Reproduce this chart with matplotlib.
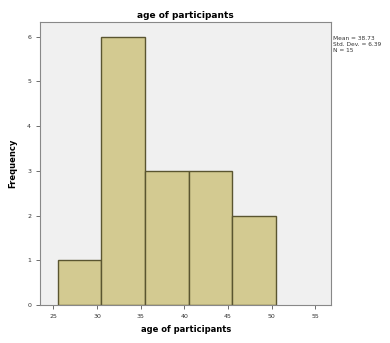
import numpy as np
import matplotlib
matplotlib.use('Agg')
import matplotlib.pyplot as plt

# histogram of participant ages (bin edges and counts)
bin_edges = [25.5, 30.5, 35.5, 40.5, 45.5, 50.5]
counts = [1, 6, 3, 3, 2]
x_ticks = [25, 30, 35, 40, 45, 50, 55]
y_ticks = [0, 1, 2, 3, 4, 5, 6]
stats_text = "Mean = 38.73\nStd. Dev. = 6.39\nN = 15"

fig = plt.figure(figsize=(3.9, 3.43), dpi=100)
fig.patch.set_facecolor('white')
ax = fig.add_axes([0.103, 0.111, 0.746, 0.825])
ax.set_facecolor('#f0f0f0')

widths = np.diff(bin_edges)
ax.bar(bin_edges[:-1], counts, width=widths, align='edge',
       color='#d3ca91', edgecolor='#5a5530', linewidth=1.0)

ax.set_xlim(23.5, 56.8)
ax.set_ylim(0, 6.33)
ax.set_xticks(x_ticks)
ax.set_yticks(y_ticks)
ax.tick_params(labelsize=4.5, length=3, width=0.6, colors='#555555',
               labelcolor='#333333')
for spine in ax.spines.values():
    spine.set_color('#888888')
    spine.set_linewidth(0.8)

ax.set_title('age of participants', fontsize=6.5, fontweight='bold', pad=3)
ax.set_xlabel('age of participants', fontsize=6, fontweight='bold', labelpad=4)
ax.set_ylabel('Frequency', fontsize=6, fontweight='bold', labelpad=7)

fig.text(0.855, 0.895, stats_text, fontsize=4.2, va='top', ha='left',
         color='#333333', linespacing=1.2)

fig.savefig('out.png', dpi=100)
